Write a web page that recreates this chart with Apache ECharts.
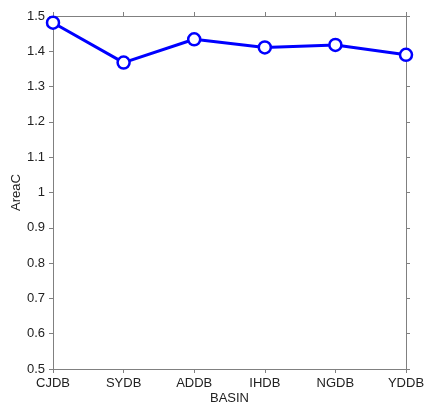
<!DOCTYPE html>
<html><head><meta charset="utf-8">
<script src="https://cdn.jsdelivr.net/npm/echarts@6/dist/echarts.min.js"></script>
<style>html,body{margin:0;padding:0;background:#fff}#c{width:427px;height:405px}</style>
</head><body><div id="c"></div>
<script>
const categories = ['CJDB','SYDB','ADDB','IHDB','NGDB','YDDB'];
const areaC = [1.481, 1.368, 1.434, 1.411, 1.418, 1.390];
const yMin = 0.5, yMax = 1.5, yStep = 0.1;

const axisColor = '#808080';
const font = '"Liberation Sans", Arial, sans-serif';
const chart = echarts.init(document.getElementById('c'));
chart.setOption({
  animation: false,
  backgroundColor: '#fff',
  grid: {left: 53, right: 21, top: 16, bottom: 36, outerBoundsMode: 'none', containLabel: false},
  xAxis: [{
    type: 'category', data: categories, boundaryGap: false,
    name: 'BASIN', nameLocation: 'middle', nameGap: 23, nameMoveOverlap: false,
    nameTextStyle: {fontFamily: font, fontSize: 13, color: '#222'},
    axisLine: {lineStyle: {color: axisColor, width: 1}},
    axisTick: {show: true, length: 4, lineStyle: {color: axisColor}},
    axisLabel: {fontFamily: font, fontSize: 13, color: '#222', margin: 8},
    splitLine: {show: false}
  }, {
    type: 'category', data: categories, boundaryGap: false, position: 'top',
    axisLine: {lineStyle: {color: axisColor, width: 1}},
    axisTick: {show: true, length: 4, lineStyle: {color: axisColor}},
    axisLabel: {show: false}, splitLine: {show: false}
  }],
  yAxis: [{
    type: 'value', min: yMin, max: yMax, interval: yStep,
    name: 'AreaC', nameLocation: 'middle', nameGap: 30, nameMoveOverlap: false,
    nameTextStyle: {fontFamily: font, fontSize: 13, color: '#222'},
    axisLine: {show: true, lineStyle: {color: axisColor, width: 1}},
    axisTick: {show: true, length: 4, lineStyle: {color: axisColor}},
    axisLabel: {fontFamily: font, fontSize: 13, color: '#222', margin: 8,
      formatter: v => String(Math.round(v * 10) / 10)},
    splitLine: {show: false}
  }, {
    type: 'value', min: yMin, max: yMax, interval: yStep, position: 'right',
    axisLine: {show: true, lineStyle: {color: axisColor, width: 1}},
    axisTick: {show: true, length: 4, lineStyle: {color: axisColor}},
    axisLabel: {show: false}, splitLine: {show: false}
  }],
  series: [{
    type: 'line', data: areaC, xAxisIndex: 0, yAxisIndex: 0,
    symbol: 'circle', symbolSize: 12,
    lineStyle: {color: '#0000ff', width: 3},
    itemStyle: {color: '#ffffff', borderColor: '#0000ff', borderWidth: 2.5}
  }]
});
</script></body></html>
